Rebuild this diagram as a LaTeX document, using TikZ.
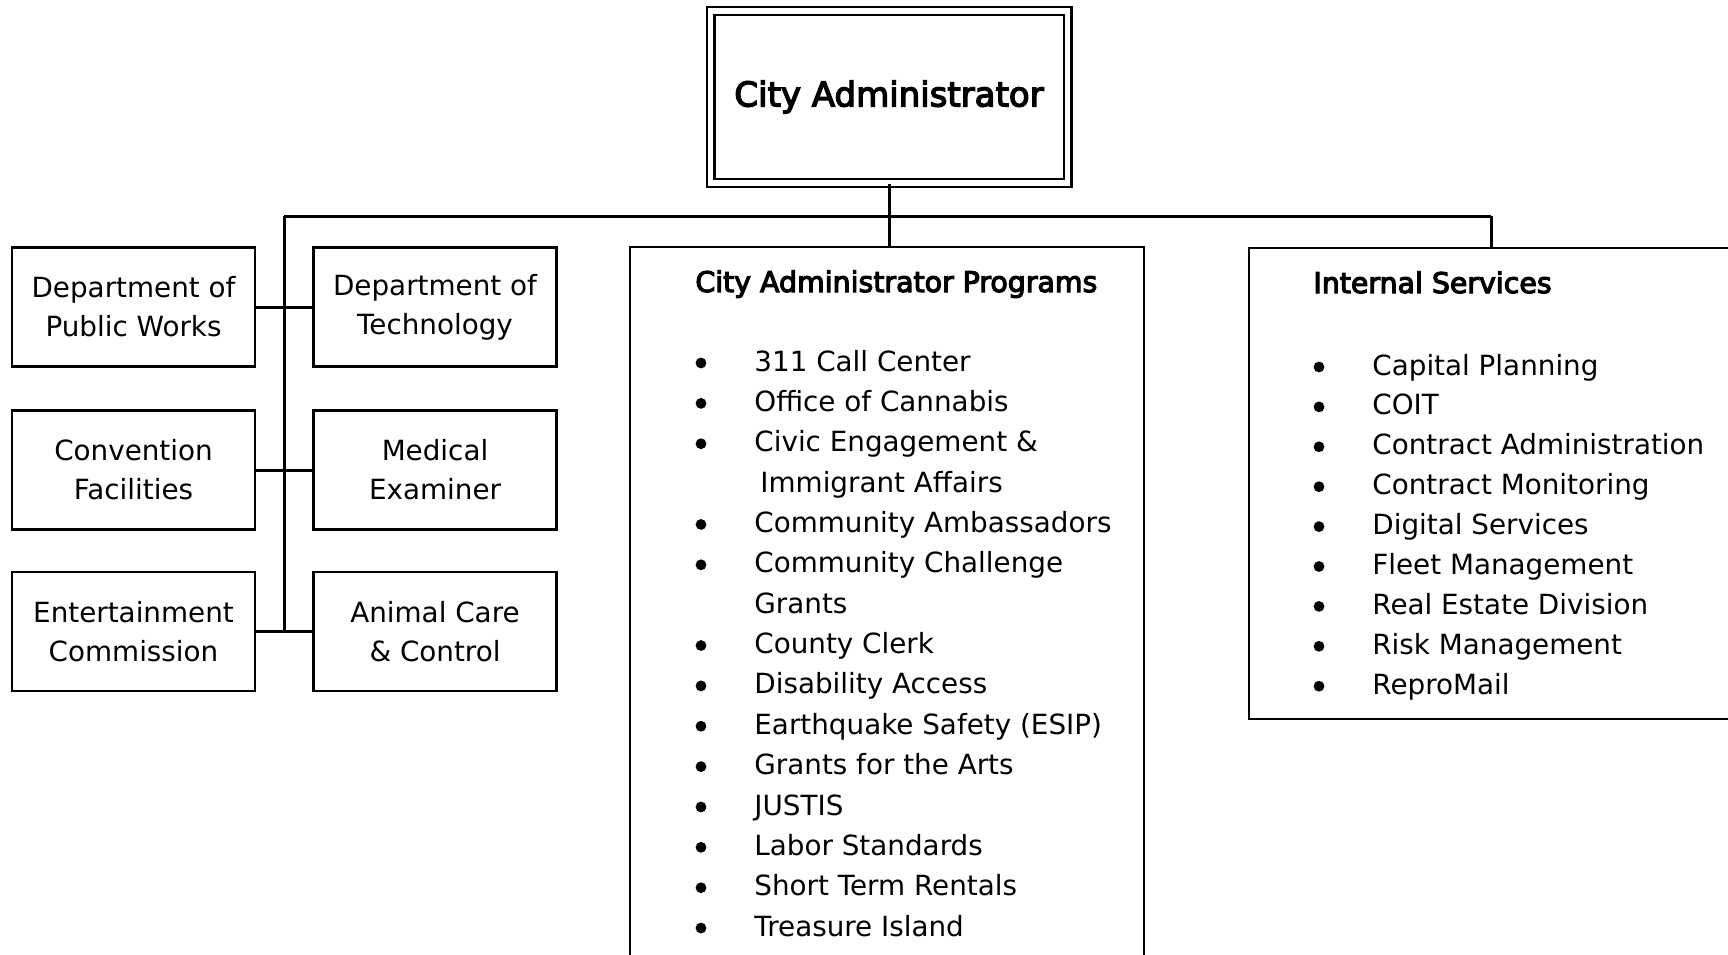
\documentclass[tikz,border=0pt]{standalone}
\usepackage{fontspec}
\setmainfont{DejaVu Sans}
\newfontfamily\headfont[FakeBold=4]{DejaVu Sans}
\begin{document}
\begin{tikzpicture}[x=0.5pt,y=-0.5pt,
  box/.style={draw, line width=1.2pt, minimum width=121.5pt, minimum height=59.5pt,
    inner sep=0pt, align=center, font=\fontsize{13.9}{19.5}\selectfont},
  listbox/.style={draw, line width=1.2pt, inner sep=0pt},
  item/.style={anchor=base west, inner sep=0pt, font=\fontsize{13.9}{19.5}\selectfont},
  title/.style={anchor=base west, inner sep=0pt, font=\headfont\fontsize{14.2}{18}\selectfont},
  bul/.style={circle, fill=black, inner sep=0pt, minimum size=5.4pt},
  conn/.style={line width=1.5pt}]
\clip (0,0) rectangle (1728,954);
\fill[white] (0,0) rectangle (1728,954);

% top box
\node[draw, line width=1.2pt, double, double distance=2.6pt, minimum width=178.5pt, minimum height=86pt,
  inner sep=0pt, font=\headfont\fontsize{17}{20}\selectfont] (ca) at (889,97) {City Administrator};

% left boxes
\node[box] (dpw) at (133.5,307) {Department of\\Public Works};
\node[box] (dot) at (435,307) {Department of\\Technology};
\node[box] (cf)  at (133.5,470) {Convention\\Facilities};
\node[box] (me)  at (435,470) {Medical\\Examiner};
\node[box] (ec)  at (133.5,631.5) {Entertainment\\Commission};
\node[box] (acc) at (435,631.5) {Animal Care\\\& Control};

% list boxes
\node[listbox, minimum width=257pt, minimum height=371.5pt] (prog) at (887,618.5) {};
\node[listbox, minimum width=270.5pt, minimum height=235.5pt] (int) at (1519.5,483.5) {};

% connectors
\coordinate (busL) at (284,216);
\coordinate (busR) at (1491,216);
\draw[conn] (busL) -- (busR);
\draw[conn] (ca.south) -- (ca.south |- prog.north);
\draw[conn] (busR) -- (busR |- int.north);
\draw[conn] (busL) -- (busL |- ec.east);
\draw[conn] (dpw.east) -- (dot.west);
\draw[conn] (cf.east) -- (me.west);
\draw[conn] (ec.east) -- (acc.west);

% programs
\node[title] (ptitle) at (695,292) {City Administrator Programs};
\node[item] (p1)  at (754,371.0) {311 Call Center};
\node[item] (p2)  at (754,411.4) {Office of Cannabis};
\node[item] (p3)  at (754,451.7) {Civic Engagement \&};
\node[item] (p4)  at (760,492.1) {Immigrant Affairs};
\node[item] (p5)  at (754,532.4) {Community Ambassadors};
\node[item] (p6)  at (754,572.8) {Community Challenge};
\node[item] (p7)  at (754,613.2) {Grants};
\node[item] (p8)  at (754,653.5) {County Clerk};
\node[item] (p9)  at (754,693.9) {Disability Access};
\node[item] (p10) at (754,734.2) {Earthquake Safety (ESIP)};
\node[item] (p11) at (754,774.6) {Grants for the Arts};
\node[item] (p12) at (754,815.0) {JUSTIS};
\node[item] (p13) at (754,855.3) {Labor Standards};
\node[item] (p14) at (754,895.7) {Short Term Rentals};
\node[item] (p15) at (754,936.0) {Treasure Island};
\foreach \k in {1,2,3,5,6,8,9,10,11,12,13,14,15}{
  \node[bul] (pb\k) at (701,{371+40.36*(\k-1)-8}) {};
}

% internal services
\node[title] (ititle) at (1313,293) {Internal Services};
\foreach \t [count=\k] in {Capital Planning,COIT,Contract Administration,Contract Monitoring,
  Digital Services,Fleet Management,Real Estate Division,Risk Management,ReproMail}{
  \node[item] (i\k) at (1372,{375+39.9*(\k-1)}) {\t};
  \node[bul] (ib\k) at (1319,{375+39.9*(\k-1)-8}) {};
}
\end{tikzpicture}
\end{document}
